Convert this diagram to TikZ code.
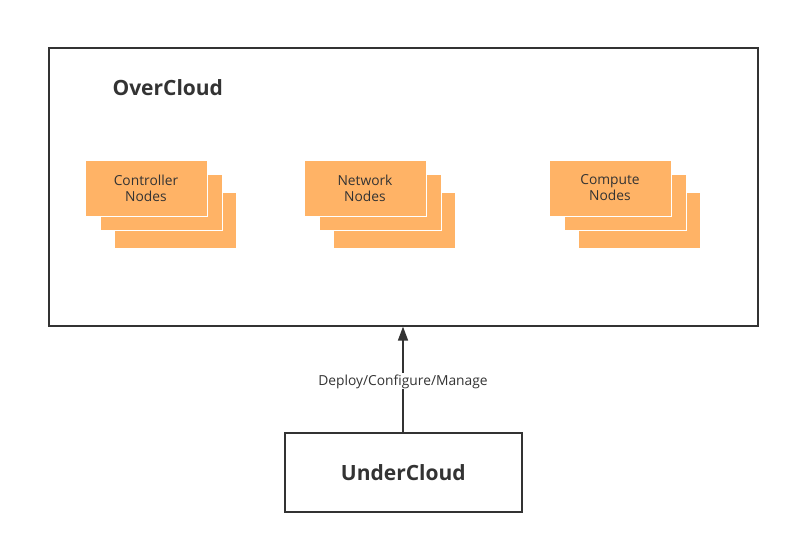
\documentclass[tikz,border=0pt]{standalone}
\usepackage{fontspec}
\setmainfont{Open Sans}
\usetikzlibrary{arrows.meta}
\definecolor{nodefill}{HTML}{FFB366}
\definecolor{txt}{HTML}{333333}
\tikzset{
  frame/.style={draw=txt, line width=1.6pt, fill=white},
  card/.style={fill=nodefill, draw=white, line width=1pt, minimum width=122pt, minimum height=56pt, inner sep=0pt, anchor=north west, text=txt, font=\fontsize{13.8}{16}\selectfont, align=center},
  title/.style={text=txt, font=\bfseries\fontsize{21}{24}\selectfont}
}
\begin{document}
\begin{tikzpicture}[x=1pt,y=-1pt]
\useasboundingbox (0,0) rectangle (789,543);
\node[frame, minimum width=709pt, minimum height=278pt, anchor=north west] (over) at (48,47) {};
\node[title, anchor=west] (overt) at (109,88) {OverCloud};
% Controller
\node[card] (c3) at (113.5,191.5) {};
\node[card] (c2) at (99.5,173.5) {};
\node[card] (c1) at (84.5,159.5) {Controller\\Nodes};
% Network
\node[card] (n3) at (332.5,191.5) {};
\node[card] (n2) at (318.5,173.5) {};
\node[card] (n1) at (303.5,159.5) {Network\\Nodes};
% Compute
\node[card] (p3) at (577.5,191.5) {};
\node[card] (p2) at (563.5,173.5) {};
\node[card] (p1) at (548.5,159.5) {Compute\\Nodes};
% UnderCloud
\node[frame, title, minimum width=237pt, minimum height=79pt, anchor=north west] (under) at (284,432) {};
\node[title] (undert) at (under.center) {UnderCloud};
\draw[draw=txt, line width=1.6pt, -{Triangle[length=14pt,width=10pt]}] (under.north -| 403,0) -- (over.south -| 403,0) node[pos=0.48, fill=white, text=txt, inner sep=1pt, font=\fontsize{13.8}{16}\selectfont] (lab) {Deploy/Configure/Manage};
\end{tikzpicture}
\end{document}
